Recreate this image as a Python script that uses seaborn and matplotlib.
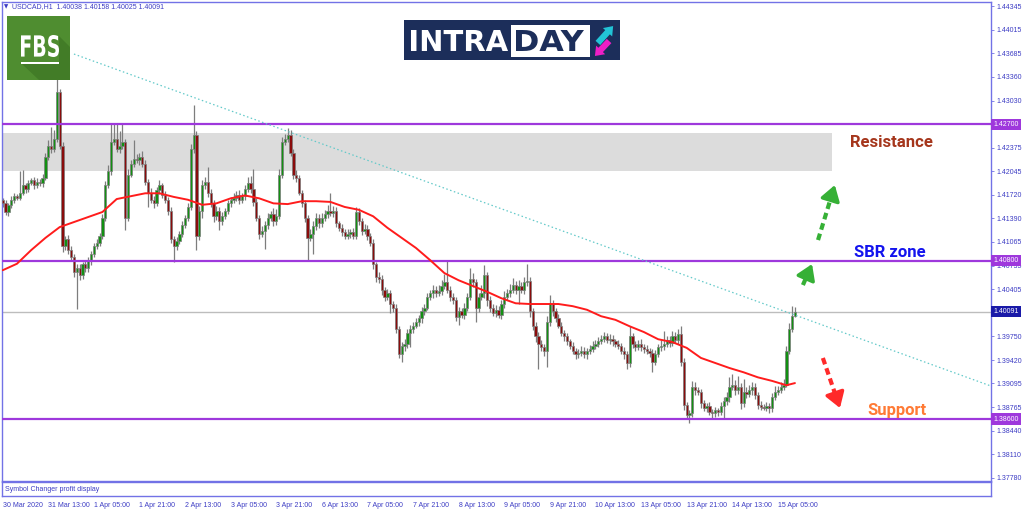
import pandas as pd
import matplotlib.pyplot as plt
import seaborn as sns
from matplotlib.patches import Rectangle, Polygon, PathPatch, FancyArrowPatch
from matplotlib.textpath import TextPath
from matplotlib.font_manager import FontProperties
from matplotlib.transforms import Affine2D

sns.set_style("white")
SMALL = ['Liberation Sans', 'DejaVu Sans']
plt.rcParams['font.family'] = SMALL

W, H = 1024, 511
FS = 5.0

# hourly closes, 30 Mar 21:00 -> 15 Apr
closes = [
    1.4160, 1.4148, 1.4158, 1.4165, 1.4170, 1.4168, 1.4175, 1.4185, 1.4180, 1.4188,
    1.4192, 1.4185, 1.4190, 1.4188, 1.4195, 1.4225, 1.4240, 1.4235, 1.4250, 1.4315,
    1.4240, 1.4100, 1.4110, 1.4095, 1.4085, 1.4065, 1.4070, 1.4060, 1.4075, 1.4070,
    1.4080, 1.4090, 1.4100, 1.4105, 1.4115, 1.4140, 1.4185, 1.4205, 1.4245, 1.4250,
    1.4235, 1.4240, 1.4245, 1.4140, 1.4200, 1.4215, 1.4222, 1.4220, 1.4225, 1.4215,
    1.4190, 1.4175, 1.4165, 1.4160, 1.4178, 1.4185, 1.4172, 1.4165, 1.4150, 1.4110,
    1.4100, 1.4108, 1.4118, 1.4130, 1.4140, 1.4155, 1.4235, 1.4255, 1.4115, 1.4150,
    1.4185, 1.4190, 1.4175, 1.4160, 1.4142, 1.4150, 1.4135, 1.4142, 1.4150, 1.4160,
    1.4165, 1.4168, 1.4172, 1.4165, 1.4170, 1.4180, 1.4188, 1.4180, 1.4162, 1.4140,
    1.4118, 1.4122, 1.4130, 1.4140, 1.4145, 1.4135, 1.4142, 1.4200, 1.4245, 1.4250,
    1.4255, 1.4230, 1.4200, 1.4195, 1.4175, 1.4160, 1.4140, 1.4112, 1.4118, 1.4128,
    1.4140, 1.4132, 1.4140, 1.4145, 1.4150, 1.4147, 1.4150, 1.4132, 1.4126, 1.4120,
    1.4115, 1.4118, 1.4120, 1.4115, 1.4148, 1.4135, 1.4122, 1.4125, 1.4115, 1.4105,
    1.4075, 1.4058, 1.4055, 1.4040, 1.4030, 1.4035, 1.4020, 1.4015, 1.3985, 1.3950,
    1.3962, 1.3965, 1.3980, 1.3985, 1.3990, 1.3995, 1.4000, 1.4010, 1.4015, 1.4030,
    1.4035, 1.4040, 1.4035, 1.4038, 1.4045, 1.4050, 1.4040, 1.4030, 1.4025, 1.4002,
    1.4010, 1.4005, 1.4015, 1.4030, 1.4055, 1.4050, 1.4015, 1.4030, 1.4035, 1.4060,
    1.4025, 1.4015, 1.4008, 1.4012, 1.4005, 1.4020, 1.4030, 1.4035, 1.4040, 1.4046,
    1.4040, 1.4045, 1.4040, 1.4050, 1.4052, 1.4010, 1.3990, 1.3975, 1.3965, 1.3960,
    1.3955, 1.3995, 1.4020, 1.4010, 1.4000, 1.3990, 1.3980, 1.3975, 1.3968, 1.3962,
    1.3955, 1.3950, 1.3952, 1.3955, 1.3950, 1.3955, 1.3958, 1.3962, 1.3965, 1.3968,
    1.3972, 1.3975, 1.3970, 1.3972, 1.3968, 1.3965, 1.3962, 1.3955, 1.3950, 1.3938,
    1.3975, 1.3965, 1.3960, 1.3965, 1.3960, 1.3958, 1.3955, 1.3952, 1.3940, 1.3950,
    1.3960, 1.3962, 1.3965, 1.3970, 1.3966, 1.3975, 1.3970, 1.3978, 1.3940, 1.3880,
    1.3866, 1.3868, 1.3905, 1.3900, 1.3898, 1.3882, 1.3876, 1.3878, 1.3870, 1.3868,
    1.3872, 1.3870, 1.3878, 1.3885, 1.3890, 1.3905, 1.3908, 1.3900, 1.3905, 1.3882,
    1.3898, 1.3895, 1.3900, 1.3905, 1.3893, 1.3880, 1.3877, 1.3876, 1.3878, 1.3875,
    1.3890, 1.3898, 1.3900, 1.3905, 1.3908, 1.3955, 1.3985, 1.40038, 1.40091,
]
first_open = 1.4165

# wick lengths in pips above / below the body
wick_up = [
    3, 4, 3, 5, 4, 3, 30, 22, 4, 5, 3, 4, 5, 4, 6, 5, 8, 26, 12, 18,
    4, 5, 4, 6, 5, 4, 6, 5, 4, 6, 5, 4, 5, 6, 4, 5, 6, 8, 25, 22,
    22, 20, 27, 5, 8, 6, 26, 6, 5, 8, 5, 4, 6, 5, 5, 8, 4, 5, 4, 5,
    4, 5, 4, 5, 4, 6, 8, 42, 5, 6, 8, 6, 20, 5, 4, 6, 5, 6, 4, 5,
    4, 6, 5, 7, 5, 6, 8, 10, 28, 5, 4, 6, 5, 6, 5, 8, 10, 8, 8, 6,
    10, 7, 5, 6, 5, 4, 5, 4, 6, 8, 6, 5, 7, 6, 8, 24, 6, 5, 4, 5,
    4, 6, 5, 6, 7, 5, 4, 6, 5, 4, 5, 4, 6, 5, 4, 6, 5, 4, 5, 4,
    5, 6, 5, 6, 5, 6, 5, 6, 5, 6, 5, 6, 5, 8, 8, 12, 30, 5, 6, 5,
    6, 5, 6, 5, 15, 8, 5, 6, 12, 14, 5, 6, 5, 6, 5, 6, 8, 6, 8, 10,
    6, 8, 6, 8, 23, 5, 4, 5, 6, 5, 4, 8, 12, 6, 5, 6, 5, 4, 5, 4,
    5, 4, 5, 6, 5, 4, 5, 6, 5, 6, 5, 6, 5, 6, 5, 4, 5, 4, 5, 4,
    15, 5, 4, 5, 6, 4, 5, 4, 5, 6, 5, 8, 17, 6, 5, 8, 6, 7, 12, 5,
    4, 5, 8, 6, 5, 4, 5, 4, 5, 4, 5, 4, 6, 5, 8, 13, 15, 6, 15, 5,
    17, 6, 8, 7, 5, 4, 5, 4, 5, 4, 6, 8, 6, 7, 8, 6, 8, 13, 6.7,
]
wick_down = [
    5, 4, 6, 4, 5, 4, 3, 4, 5, 4, 3, 5, 4, 4, 5, 3, 4, 5, 4, 5,
    5, 8, 5, 6, 5, 8, 52, 6, 5, 6, 5, 6, 5, 4, 5, 4, 5, 4, 5, 4,
    4, 5, 4, 17, 5, 4, 5, 4, 6, 5, 4, 20, 5, 6, 4, 5, 4, 5, 6, 5,
    21, 5, 4, 5, 4, 5, 4, 5, 20, 6, 10, 5, 6, 5, 8, 5, 12, 5, 4, 5,
    5, 4, 5, 6, 4, 5, 4, 5, 6, 5, 8, 5, 25, 5, 4, 6, 5, 4, 5, 4,
    5, 4, 6, 5, 4, 5, 6, 31, 5, 28, 5, 6, 5, 4, 5, 4, 6, 5, 4, 6,
    5, 4, 6, 5, 4, 5, 6, 5, 6, 5, 6, 8, 6, 7, 6, 5, 12, 6, 5, 5,
    10, 8, 6, 20, 5, 4, 5, 6, 5, 4, 5, 6, 5, 4, 5, 4, 5, 6, 5, 6,
    11, 5, 6, 5, 4, 6, 20, 6, 5, 6, 8, 6, 5, 6, 5, 6, 5, 4, 5, 4,
    6, 20, 5, 6, 5, 8, 6, 8, 35, 6, 8, 22, 5, 6, 5, 4, 5, 6, 5, 4,
    5, 6, 5, 4, 5, 6, 4, 5, 4, 5, 4, 5, 4, 5, 6, 5, 4, 5, 6, 8,
    5, 6, 5, 4, 5, 6, 5, 6, 14, 5, 4, 5, 6, 5, 6, 5, 4, 5, 6, 8,
    6, 11, 5, 6, 5, 6, 5, 6, 5, 6, 5, 6, 5, 18, 5, 6, 5, 6, 5, 8,
    5, 6, 5, 6, 5, 6, 5, 4, 5, 6, 5, 4, 5, 4, 5, 4, 5, 4, 1.3,
]

# red moving average, read every 5th bar
ma_idx = list(range(0, 276, 5)) + [278]
ma_vals = [
    1.4067, 1.4076, 1.4095, 1.4112, 1.4127, 1.4134, 1.4141, 1.4148, 1.4166, 1.4170,
    1.4174, 1.4174, 1.4169, 1.4165, 1.4158, 1.4160, 1.4167, 1.4171, 1.4167, 1.4160,
    1.4159, 1.4163, 1.4163, 1.4162, 1.4155, 1.4151, 1.4142, 1.4126, 1.4112, 1.4098,
    1.4081, 1.4063, 1.4053, 1.4045, 1.4037, 1.4028, 1.4021, 1.4020, 1.4020, 1.4020,
    1.4017, 1.4012, 1.4003, 1.3998, 1.3989, 1.3981, 1.3971, 1.3967, 1.3959, 1.3945,
    1.3938, 1.3931, 1.3925, 1.3918, 1.3913, 1.3907, 1.3910,
]

time_labels = ['30 Mar 2020', '31 Mar 13:00', '1 Apr 05:00', '1 Apr 21:00', '2 Apr 13:00',
               '3 Apr 05:00', '3 Apr 21:00', '6 Apr 13:00', '7 Apr 05:00', '7 Apr 21:00',
               '8 Apr 13:00', '9 Apr 05:00', '9 Apr 21:00', '10 Apr 13:00', '13 Apr 05:00',
               '13 Apr 21:00', '14 Apr 13:00', '15 Apr 05:00']
label_step = 16

price_ticks = [1.44345, 1.44015, 1.43685, 1.43360, 1.43030, 1.42375, 1.42045, 1.41720,
               1.41390, 1.41065, 1.40735, 1.40405, 1.39750, 1.39420, 1.39095, 1.38765,
               1.38440, 1.38110, 1.37780]
level_prices = [1.42700, 1.40800, 1.38600]
bid_price = 1.40091
zone_low, zone_high, zone_end = 1.42050, 1.42578, 291
trend_x = [25, 346.8]
trend_y = [1.43677, 1.39059]

XMIN, XMAX = -0.25, 346.8
YMIN, YMAX = 1.37738, 1.44401

FRAME = '#7272e6'
TXT = '#3c3cc4'
PURPLE = '#9e38dc'

df = pd.DataFrame({'close': closes, 'up': wick_up, 'down': wick_down})
df['open'] = df['close'].shift(1).fillna(first_open)
df['top'] = df[['open', 'close']].max(axis=1)
df['bot'] = df[['open', 'close']].min(axis=1)
df['high'] = df['top'] + df['up'] * 1e-4
df['low'] = df['bot'] - df['down'] * 1e-4
df['bull'] = df['close'] >= df['open']


def fx(x):
    return x / W


def fy(y):
    return 1 - y / H


fig = plt.figure(figsize=(W / 100, H / 100), dpi=100)
fig.patch.set_facecolor('white')

ax = fig.add_axes([fx(2), fy(481), (991 - 2) / W, (481 - 2) / H])
ax.set_xlim(XMIN, XMAX)
ax.set_ylim(YMIN, YMAX)
ax.set_facecolor('white')

# resistance zone
ax.fill_between([XMIN, zone_end], zone_low, zone_high, color='#dcdcdc', lw=0, zorder=0)

# levels
ax.axhline(bid_price, color='#bdbdbd', lw=1.0, zorder=1)
for p in level_prices:
    ax.axhline(p, color=PURPLE, lw=1.6, zorder=4)

# candles
ax.vlines(df.index, df['low'], df['high'], color='#7d7d7d', lw=0.9, zorder=2)
body = (df['top'] - df['bot']).clip(lower=0.00003)
ax.bar(df.index, body, bottom=df['bot'], width=0.8,
       color=['#129012' if b else '#8a0c0c' for b in df['bull']],
       edgecolor='#7d7d7d', linewidth=0.5, zorder=3)

# trendline
ax.plot(trend_x, trend_y, color='#62c9c9', lw=0.9, ls=(0, (1.2, 2.0)), zorder=4)

# moving average
sns.lineplot(x=ma_idx, y=ma_vals, ax=ax, color='#ff1c1c', lw=1.4, zorder=5)

# annotation texts
ax.text(312, 1.42453, 'Resistance', family=['Roboto', 'DejaVu Sans'], weight='bold',
        fontsize=12, color='#a5361c', ha='center', va='center', zorder=6)
ax.text(311.3, 1.40923, 'SBR zone', family=['Roboto', 'DejaVu Sans'], weight='bold',
        fontsize=12, color='#1414ee', ha='center', va='center', zorder=6)
ax.text(313.8, 1.38725, 'Support', family=['Roboto', 'DejaVu Sans'], weight='bold',
        fontsize=12, color='#ff7a35', ha='center', va='center', zorder=6)


def dashed_arrow(x0, y0, x1, y1, color, frac):
    xb = x1 - frac * (x1 - x0)
    yb = y1 - frac * (y1 - y0)
    ax.plot([x0, xb], [y0, yb], color=color, lw=3.0, ls=(0, (1.6, 1.0)),
            solid_capstyle='butt', dash_capstyle='butt', zorder=6)
    ax.annotate('', xy=(x1, y1), xytext=(xb, yb),
                arrowprops=dict(arrowstyle='-|>,head_length=0.7,head_width=0.45',
                                mutation_scale=13, color=color, lw=2.5,
                                shrinkA=0, shrinkB=0), zorder=6)


dashed_arrow(286.1, 1.41090, 292.0, 1.41855, '#36b036', 0.2)
dashed_arrow(280.8, 1.40464, 284.0, 1.40756, '#36b036', 0.45)
dashed_arrow(287.8, 1.39449, 293.8, 1.38753, '#ff2a2a', 0.2)

# axes styling
for s in ax.spines.values():
    s.set_color(FRAME)
    s.set_linewidth(1.0)
ax.set_xticks([])
ax.yaxis.tick_right()
ax.set_yticks(price_ticks)
ax.set_yticklabels([f'{p:.5f}' for p in price_ticks])
ax.tick_params(axis='y', direction='out', length=2, width=0.6, color=FRAME,
               labelcolor=TXT, labelsize=FS, pad=2)

ytr = ax.get_yaxis_transform()
for p in level_prices:
    ax.text(1.0025, p, f'{p:.5f}', transform=ytr, ha='left', va='center', fontsize=FS,
            color='white', clip_on=False, zorder=10,
            bbox=dict(boxstyle='square,pad=0.3', fc=PURPLE, ec='none'))
ax.text(1.0025, bid_price, f'{bid_price:.5f}', transform=ytr, ha='left', va='center',
        fontsize=FS, color='white', clip_on=False, zorder=10,
        bbox=dict(boxstyle='square,pad=0.3', fc='#1a1aa8', ec='none'))

# indicator sub-window + time axis
ax2 = fig.add_axes([fx(2), fy(496), (991 - 2) / W, (496 - 482) / H])
ax2.set_xlim(XMIN, XMAX)
ax2.set_ylim(0, 1)
ax2.set_yticks([])
ax2.set_xticks([i * label_step for i in range(len(time_labels))])
ax2.set_xticklabels(time_labels, ha='left')
ax2.tick_params(axis='x', direction='out', length=2.5, width=0.6, color=FRAME,
                labelcolor=TXT, labelsize=FS, pad=1.5)
for s in ax2.spines.values():
    s.set_color(FRAME)
    s.set_linewidth(1.0)
ax2.text(0.003, 0.45, 'Symbol Changer profit display', transform=ax2.transAxes,
         fontsize=FS, color=TXT, va='center')

# header
last = df.iloc[-1]
fig.text(fx(4), fy(7), '\u25bc', fontsize=4, color=TXT, va='center', family='DejaVu Sans')
fig.text(fx(12), fy(7),
         f"USDCAD,H1  {last['open']:.5f} {last['high']:.5f} {last['low']:.5f} {last['close']:.5f}",
         fontsize=FS, color=TXT, va='center')


def text_patch(s, x0, y_top, w, h, color):
    tp = TextPath((0, 0), s, size=10, prop=FontProperties(family='DejaVu Sans', weight='bold'))
    bb = tp.get_extents()
    tr = Affine2D().translate(-bb.x0, -bb.y0).scale(w / W / bb.width, h / H / bb.height) \
        .translate(fx(x0), fy(y_top + h))
    fig.add_artist(PathPatch(tp, transform=tr + fig.transFigure, fc=color, ec='none', zorder=20))


def fig_rect(x0, y0, x1, y1, color):
    fig.add_artist(Rectangle((fx(x0), fy(y1)), (x1 - x0) / W, (y1 - y0) / H,
                             transform=fig.transFigure, fc=color, ec='none', zorder=19))


# FBS logo
fig_rect(7, 16, 70, 80, '#4f8d30')
fig.add_artist(Polygon([(fx(59), fy(36)), (fx(70), fy(47)), (fx(70), fy(80)), (fx(39), fy(80)),
                        (fx(22), fy(64)), (fx(59), fy(64))],
                       closed=True, transform=fig.transFigure, fc='#427c27', ec='none', zorder=19))
text_patch('FBS', 21, 35, 38, 22, 'white')
fig_rect(21, 62, 59, 64.5, 'white')

# INTRADAY logo
fig_rect(404, 20, 620, 60, '#1c2e5a')
text_patch('INTRA', 411, 30, 97, 21, 'white')
fig_rect(511, 25, 590, 57, 'white')
text_patch('DAY', 516, 30, 68, 21, '#1c2e5a')
fig.add_artist(FancyArrowPatch((fx(596), fy(45)), (fx(615), fy(24)),
                               arrowstyle='simple,head_length=6,head_width=9,tail_width=4.5',
                               transform=fig.transFigure, fc='#22c4d6', ec='none', zorder=21))
fig.add_artist(FancyArrowPatch((fx(611), fy(39)), (fx(593), fy(58)),
                               arrowstyle='simple,head_length=6,head_width=9,tail_width=4.5',
                               transform=fig.transFigure, fc='#ee1fc6', ec='none', zorder=21))

fig.savefig('out.png', dpi=100)
